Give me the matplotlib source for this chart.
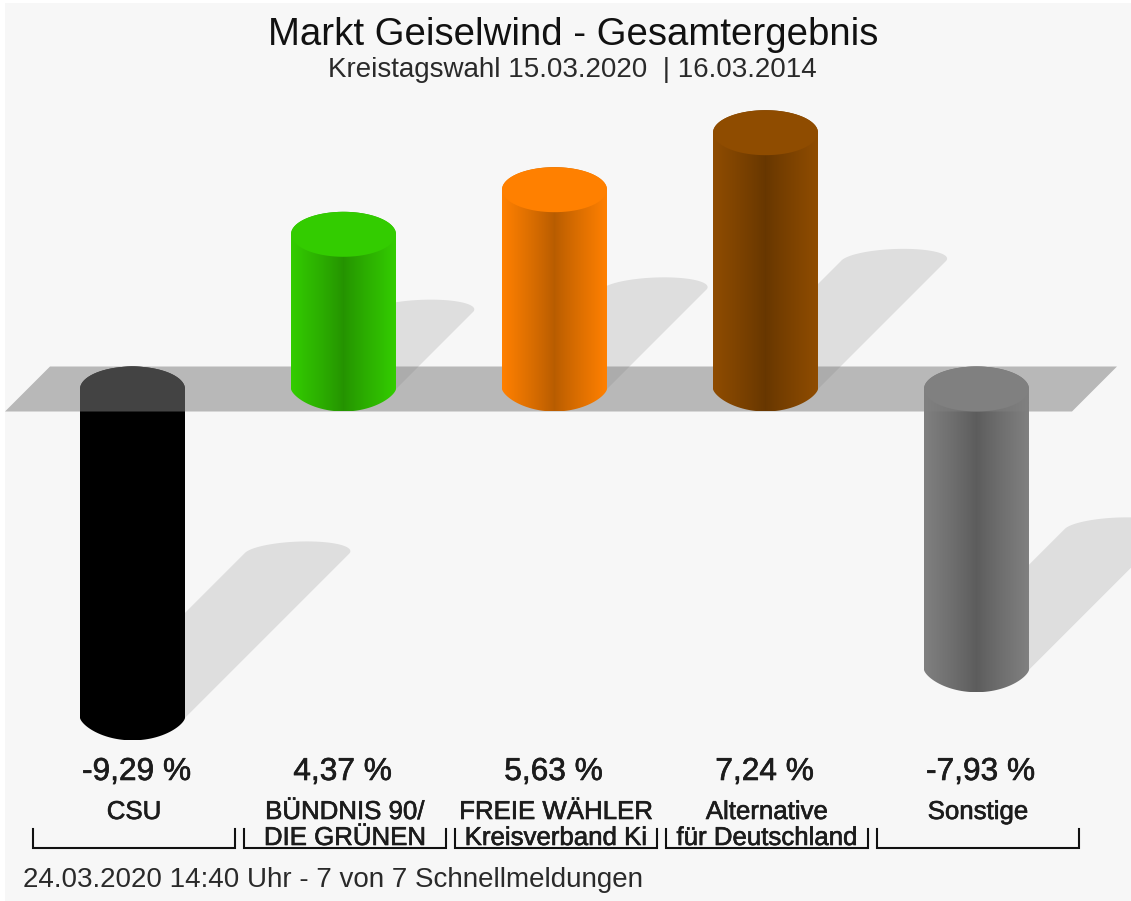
import numpy as np
from matplotlib import pyplot as plt
from matplotlib import transforms
from matplotlib.colors import to_rgb
from matplotlib.patches import Polygon, Rectangle
import matplotlib.patheffects as pe

plt.rcParams['font.family'] = ['Liberation Sans', 'DejaVu Sans']

parties = ["CSU", "BÜNDNIS 90/\nDIE GRÜNEN", "FREIE WÄHLER\nKreisverband Ki",
           "Alternative\nfür Deutschland", "Sonstige"]
values = [-9.29, 4.37, 5.63, 7.24, -7.93]
value_labels = ["-9,29 %", "4,37 %", "5,63 %", "7,24 %", "-7,93 %"]
colors = ["#000000", "#33cc00", "#ff8000", "#8f4c00", "#808080"]

W, H = 1131, 901
X0, DX = 132.5, 211.0  # pixel of the first category, pixels per category
Y0, DY = 389.0, 35.4   # pixel of the zero line, pixels per percent
px = 1 / DX
py = 1 / DY
half_w = 52.5 * px
half_h = 22.5 * py

fig = plt.figure(figsize=(W / 100, H / 100), dpi=100, facecolor="white")
ax = fig.add_axes([0, 0, 1, 1])
ax.set_axis_off()
xlim = ((0 - X0) * px, (W - X0) * px)
ylim = ((Y0 - H) * py, Y0 * py)

# heller hintergrund
ax.add_patch(Rectangle((xlim[0] + 5 * px, ylim[0]), (W - 5) * px, (H - 3) * py,
                       fc="#f7f7f7", ec="none", zorder=0))

t = np.linspace(0, np.pi, 80)

# schatten, halbe hoehe und 45 grad
for i, v in enumerate(values):
    base = min(v, 0)
    dx = abs(v) / 2 * DY * px
    dy = abs(v) / 2
    # bogen oben etwas nach rechts gezogen
    arc = np.column_stack([i + dx - half_w * np.cos(t) + 10 * px * np.sin(t),
                           base + dy + 12 * py * np.sin(t)])
    pts = np.vstack([[i - half_w, base], arc, [i + half_w, base]])
    ax.add_patch(Polygon(pts, closed=True, fc="#dedede", ec="none", zorder=1))


def cylinder(i, v, color, z):
    top, bottom = max(v, 0), min(v, 0)
    upper = np.column_stack([i - half_w * np.cos(t), top + half_h * np.sin(t)])
    # untere kante etwas eckiger als eine ellipse
    lower = np.column_stack([i + half_w * np.cos(t), bottom - half_h * np.sin(t) ** 1.35])
    body = Polygon(np.vstack([upper, lower]), closed=True, fc="none", ec="none")
    ax.add_patch(body)
    # verlauf: aussen die parteifarbe, in der mitte dunkler
    u = np.abs(np.linspace(-1, 1, 105))
    shade = 0.72 + 0.28 * u ** 0.9
    rgb = np.array(to_rgb(color))
    img = (shade[:, None] * rgb)[None, :, :]
    im = ax.imshow(img, extent=(i - half_w, i + half_w, bottom - half_h, top + half_h),
                   aspect="auto", interpolation="bilinear", zorder=z)
    im.set_clip_path(body)
    ell = np.column_stack([i + half_w * np.cos(2 * t), top + half_h * np.sin(2 * t)])
    ax.add_patch(Polygon(ell, closed=True, fc=color, ec="none", zorder=z + 0.1))


for i, v in enumerate(values):
    cylinder(i, v, colors[i], 2 if v < 0 else 4)

# graue ebene bei null, negative balken liegen darunter
plate = [(xlim[0] + 5 * px, -22.5 * py), (xlim[0] + 50 * px, 22.5 * py),
         (xlim[0] + 1117 * px, 22.5 * py), (xlim[0] + 1072 * px, -22.5 * py)]
ax.add_patch(Polygon(plate, closed=True, fc="#808080", ec="none", alpha=0.53, zorder=3))

ax.set_xlim(*xlim)
ax.set_ylim(*ylim)

trans = transforms.blended_transform_factory(ax.transData, ax.transAxes)


def yfrac(p):
    return 1 - p / H


ink = "#1c1c1c"
bold = [pe.withStroke(linewidth=0.45, foreground=ink)]
fig.text(573 / W, yfrac(35), "Markt Geiselwind - Gesamtergebnis", ha="center", va="center",
         fontsize=27.6, color="#111111")
fig.text(572 / W, yfrac(70), "Kreistagswahl 15.03.2020  | 16.03.2014", ha="center", va="center",
         fontsize=20, color="#2a2a2a")
fig.text(23 / W, yfrac(880), "24.03.2020 14:40 Uhr - 7 von 7 Schnellmeldungen", ha="left", va="center",
         fontsize=20, color="#2a2a2a")

off = 1.5 * px  # texte stehen etwas rechts der balkenmitte
for i, (name, lab) in enumerate(zip(parties, value_labels)):
    # prozentwerte: positive stehen weiter links als negative
    val_off = (2.5 if values[i] < 0 else -2.5) * px
    ax.text(i + off + val_off, yfrac(772), lab, transform=trans, ha="center", va="center",
            fontsize=22.8, color=ink, path_effects=bold)
    lines = name.split("\n")
    ax.text(i + off, yfrac(812), lines[0], transform=trans, ha="center", va="center",
            fontsize=18.6, color=ink, path_effects=bold)
    if len(lines) > 1:
        ax.text(i + off, yfrac(838), lines[1], transform=trans, ha="center", va="center",
                fontsize=18.6, color=ink, path_effects=bold, zorder=7)
    # klammer unter der beschriftung
    ax.plot([i + off - 101 * px, i + off - 101 * px, i + off + 101 * px, i + off + 101 * px],
            [yfrac(829), yfrac(848), yfrac(848), yfrac(829)],
            transform=trans, color="#111111", lw=1.5, solid_joinstyle="miter", zorder=6)

fig.savefig("out.png", dpi=100, facecolor="white")
